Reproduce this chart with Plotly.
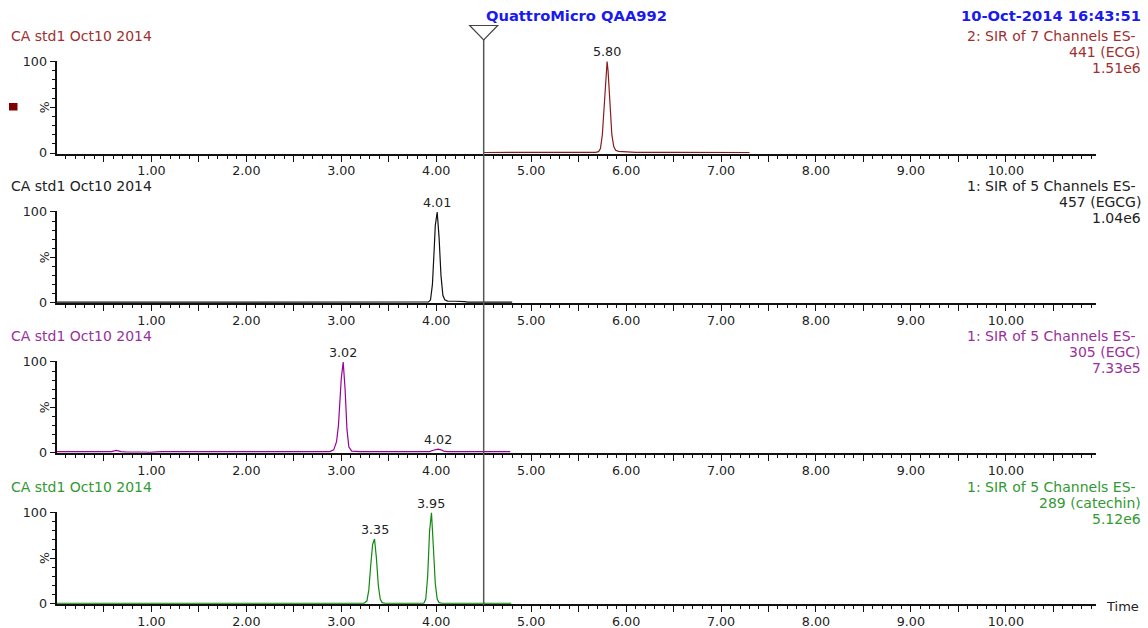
import plotly.graph_objects as go

# ---- chromatogram data: retention time (min) and relative intensity (%) ----
ecg_time = [4.50, 5.00, 5.50, 5.68, 5.71, 5.73, 5.75, 5.77, 5.79, 5.80, 5.81, 5.83, 5.85,
            5.87, 5.89, 5.92, 5.97, 6.05, 6.10, 6.50, 6.76, 6.78, 6.80, 7.00, 7.30]
ecg_pct = [0.6, 0.6, 0.6, 0.7, 1.5, 5, 20, 55, 92, 100, 90, 52, 20,
           7, 3, 1.8, 1.5, 1.3, 0.8, 0.7, 0.7, 1.4, 0.7, 0.6, 0.6]

egcg_time = [0.00, 0.50, 1.00, 1.50, 2.00, 2.50, 2.95, 2.99, 3.03, 3.07, 3.30, 3.33, 3.37,
             3.41, 3.70, 3.92, 3.94, 3.96, 3.98, 3.99, 4.01, 4.03, 4.05, 4.07, 4.09, 4.12,
             4.20, 4.26, 4.28, 4.30, 4.33, 4.60, 4.80]
egcg_pct = [0.4, 0.4, 0.4, 0.4, 0.4, 0.4, 0.4, 1.1, 1.0, 0.4, 0.4, 1.2, 1.0,
            0.4, 0.4, 0.6, 3, 20, 62, 85, 100, 72, 30, 8, 3, 1.6,
            1.4, 1.3, 1.8, 1.0, 0.4, 0.4, 0.4]

egc_time = [0.00, 0.30, 0.58, 0.63, 0.68, 0.74, 0.80, 0.86, 0.92, 0.98, 1.04, 1.10, 1.50,
            2.00, 2.50, 2.88, 2.92, 2.95, 2.97, 2.99, 3.00, 3.02, 3.04, 3.06, 3.08, 3.11,
            3.20, 3.60, 3.93, 3.97, 4.00, 4.02, 4.05, 4.08, 4.12, 4.50, 4.78]
egc_pct = [1.0, 1.0, 1.0, 2.4, 1.0, 0.6, 0.8, 0.5, 0.6, 0.3, 0.6, 1.0, 1.0,
           1.0, 1.0, 1.1, 3, 12, 30, 62, 82, 100, 70, 25, 6, 1.5,
           1.0, 1.0, 1.1, 2.5, 3.6, 3.8, 3.0, 1.6, 1.0, 1.0, 1.0]

catechin_time = [0.00, 1.00, 2.00, 3.00, 3.24, 3.27, 3.29, 3.31, 3.33, 3.35, 3.37, 3.39, 3.41,
                 3.43, 3.46, 3.80, 3.87, 3.89, 3.91, 3.93, 3.95, 3.97, 3.99, 4.01, 4.03, 4.06,
                 4.40, 4.79]
catechin_pct = [0.3, 0.3, 0.3, 0.3, 0.3, 3, 15, 42, 65, 71, 50, 20, 5,
                1, 0.3, 0.3, 0.4, 5, 30, 80, 100, 62, 22, 5, 1, 0.3,
                0.3, 0.3]

# labelled peak apexes (retention times)
ecg_peaks = [5.80]
egcg_peaks = [4.01]
egc_peaks = [3.02, 4.02]
catechin_peaks = [3.35, 3.95]

cursor_time = 4.50

instrument = "QuattroMicro QAA992"
acquired = "10-Oct-2014 16:43:51"
sample = "CA std1 Oct10 2014"
channel_lines = [
    ["2: SIR of 7 Channels ES-", "441 (ECG)", "1.51e6"],
    ["1: SIR of 5 Channels ES-", "457 (EGCG)", "1.04e6"],
    ["1: SIR of 5 Channels ES-", "305 (EGC)", "7.33e5"],
    ["1: SIR of 5 Channels ES-", "289 (catechin)", "5.12e6"],
]

# ---- page geometry (pixels) ----
W, H = 1148, 628
X_LEFT, X_RIGHT = 56.5, 1096.0
T_MAX = 10.95
# (pixel row of 0 %, pixel row of 100 %, header row) per panel
rows = [(154.5, 61.5, 36), (304.0, 212.0, 186), (454.0, 362.0, 336), (605.0, 512.7, 487)]
Y_LO, Y_HI = -0.8, 100.8

panels = [
    dict(t=ecg_time, y=ecg_pct, peaks=ecg_peaks, line="#8B1A1A", text="#A0302E"),
    dict(t=egcg_time, y=egcg_pct, peaks=egcg_peaks, line="#111111", text="#222222"),
    dict(t=egc_time, y=egc_pct, peaks=egc_peaks, line="#990099", text="#9A309A"),
    dict(t=catechin_time, y=catechin_pct, peaks=catechin_peaks, line="#118811", text="#339933"),
]

FONT = "DejaVu Sans, Verdana, sans-serif"
TICK_SIZE = 12.7
HEAD_SIZE = 14


def px_y(p):
    return 1 - p / H


def px_x(p):
    return p / W


fig = go.Figure()
layout = dict(
    template="none",
    width=W, height=H, autosize=False,
    margin=dict(l=0, r=0, t=0, b=0, pad=0),
    paper_bgcolor="white", plot_bgcolor="white",
    showlegend=False, font=dict(family=FONT, size=13, color="#222"),
)

annotations = []
shapes = []

major_x = [round(0.5 * i, 2) for i in range(1, 22)]
major_x_text = [f"{v:.2f}" if abs(v - round(v)) < 1e-9 else "" for v in major_x]
minor_x = [round(0.1 * i, 2) for i in range(1, 110) if i % 5 != 0]

for k, (p, (zero_px, hund_px, head_px)) in enumerate(zip(panels, rows), start=1):
    s = (zero_px - hund_px) / 100.0
    bottom_px = zero_px - (0 - Y_LO) * s
    top_px = zero_px - Y_HI * s
    xa = "xaxis" if k == 1 else f"xaxis{k}"
    ya = "yaxis" if k == 1 else f"yaxis{k}"
    xr = "x" if k == 1 else f"x{k}"
    yr = "y" if k == 1 else f"y{k}"

    layout[xa] = dict(
        domain=[px_x(X_LEFT), px_x(X_RIGHT)], range=[0, T_MAX], anchor=yr,
        automargin=False,
        showline=True, linewidth=2, linecolor="#111", showgrid=False, zeroline=False,
        ticks="outside", ticklen=6, tickwidth=1, tickcolor="#111",
        tickmode="array", tickvals=major_x, ticktext=major_x_text,
        ticklabelstandoff=-2,
        tickfont=dict(family=FONT, size=TICK_SIZE, color="#222"),
        minor=dict(tickmode="array", tickvals=minor_x, ticks="outside", ticklen=3,
                   tickwidth=1, tickcolor="#111", showgrid=False),
        fixedrange=True,
    )
    layout[ya] = dict(
        domain=[px_y(bottom_px), px_y(top_px)], range=[Y_LO, Y_HI], anchor=xr,
        automargin=False,
        showline=True, linewidth=2, linecolor="#111", showgrid=False, zeroline=False,
        ticks="outside", ticklen=5, tickwidth=1, tickcolor="#111",
        tickmode="array", tickvals=[0, 50, 100], ticktext=["0", "", "100"],
        tickfont=dict(family=FONT, size=TICK_SIZE, color="#222"),
        minor=dict(tickmode="array", tickvals=[10, 20, 30, 40, 60, 70, 80, 90],
                   ticks="outside", ticklen=3, tickwidth=1, tickcolor="#111", showgrid=False),
        fixedrange=True,
    )

    fig.add_trace(go.Scatter(
        x=p["t"], y=p["y"], mode="lines", xaxis=xr, yaxis=yr,
        line=dict(color=p["line"], width=1.2), hoverinfo="skip",
    ))

    # peak apex labels
    for pk in p["peaks"]:
        h = p["y"][p["t"].index(pk)]
        annotations.append(dict(
            x=pk, y=h, xref=xr, yref=yr, text=f"{pk:.2f}", showarrow=False,
            yanchor="bottom", yshift=0, font=dict(family=FONT, size=TICK_SIZE, color="#222"),
        ))

    # "%" axis caption
    annotations.append(dict(
        x=px_x(44), y=50, xref="paper", yref=yr, text="%", textangle=-90,
        xanchor="center", yanchor="middle",
        showarrow=False, font=dict(family=FONT, size=12.5, color="#222"),
    ))

    # sample header (left) and channel description (right)
    annotations.append(dict(
        x=px_x(9), y=px_y(head_px), xref="paper", yref="paper", text=sample,
        xanchor="left", yanchor="middle", showarrow=False,
        font=dict(family=FONT, size=HEAD_SIZE, color=p["text"]),
    ))
    lines = channel_lines[k - 1]
    for j, txt in enumerate(lines):
        annotations.append(dict(
            x=px_x(1138 if j == 0 else 1143), y=px_y(head_px + 16 * j),
            xref="paper", yref="paper", text=txt, xanchor="right", yanchor="middle",
            showarrow=False, font=dict(family=FONT, size=HEAD_SIZE, color=p["text"]),
        ))

# top banner
annotations.append(dict(
    x=px_x(576), y=px_y(16), xref="paper", yref="paper", text=f"<b>{instrument}</b>",
    xanchor="center", yanchor="middle", showarrow=False,
    font=dict(family=FONT, size=14.7, color="#1A1AF0"),
))
annotations.append(dict(
    x=px_x(1143), y=px_y(16), xref="paper", yref="paper", text=f"<b>{acquired}</b>",
    xanchor="right", yanchor="middle", showarrow=False,
    font=dict(family=FONT, size=14.7, color="#1A1AF0"),
))
# time axis caption
annotations.append(dict(
    x=px_x(1104), y=px_y(606), xref="paper", yref="paper", text="Time",
    xanchor="left", yanchor="middle", showarrow=False,
    font=dict(family=FONT, size=13, color="#222"),
))

# channel marker square beside the first trace
shapes.append(dict(
    type="rect", xref="paper", yref="paper",
    x0=px_x(9), x1=px_x(17.5), y0=px_y(110.5), y1=px_y(103),
    fillcolor="#800000", line=dict(width=0),
))

# retention-time cursor with its triangle handle
shapes.append(dict(
    type="line", xref="x4", yref="paper", x0=cursor_time, x1=cursor_time,
    y0=px_y(605), y1=px_y(39), line=dict(color="#555", width=1.5),
))
shapes.append(dict(
    type="path", xref="x4", yref="paper", xsizemode="pixel", ysizemode="pixel",
    xanchor=cursor_time, yanchor=px_y(25.5),
    path="M -14,0 L 14,0 L 0,-14.5 Z",
    line=dict(color="#444", width=1.2), fillcolor="rgba(0,0,0,0)",
))

layout["annotations"] = annotations
layout["shapes"] = shapes
fig.update_layout(**layout)

fig.write_html("out.html", config={"displayModeBar": False})
